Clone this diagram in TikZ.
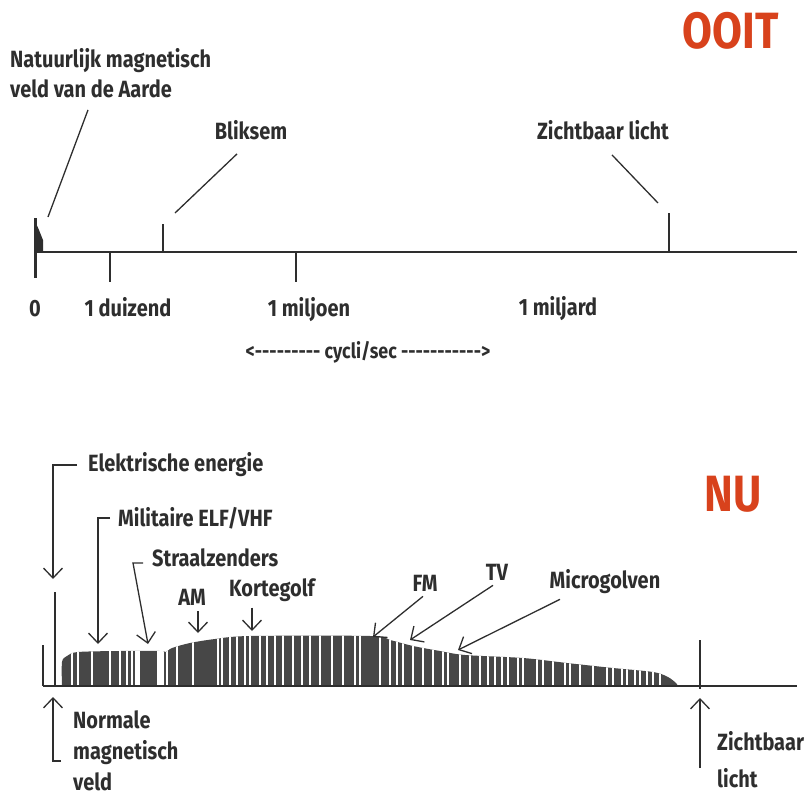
\documentclass[tikz,border=0pt]{standalone}
\usepackage{fontspec}
\setmainfont{Fira Sans}[FakeStretch=0.85]
\usetikzlibrary{arrows.meta}

\definecolor{inkt}{HTML}{2E2E2E}
\definecolor{titelrood}{HTML}{D8421C}

\tikzset{
    lbl/.style={font=\fontsize{23.5}{30}\selectfont\bfseries, text=inkt, inner sep=0pt},
    titel/.style={font=\fontsize{51}{51}\selectfont\bfseries, text=titelrood, inner sep=0pt},
    as/.style={draw=inkt, line width=2.4pt},
    wijzer/.style={draw=inkt, line width=1.3pt},
    pijl/.style={draw=inkt, line width=1.3pt, -{Straight Barb[length=10pt,width=19pt]}}
}

\begin{document}
\begin{tikzpicture}[x=1pt,y=-1pt]
    \useasboundingbox (0,0) rectangle (807,798);

    % ---------- OOIT ----------
    \node[titel] (ooit) at (731,31) {OOIT};

    % the labels above the axis
    \node[lbl, anchor=west, align=left] (aarde) at (10,73) {Natuurlijk magnetisch\\veld van de Aarde};
    \node[lbl] (bliksem) at (251,130) {Bliksem};
    \node[lbl] (licht) at (603,130) {Zichtbaar licht};

    % the axis and its ticks
    \coordinate (a0) at (35,252);
    \coordinate (aeind) at (797,252);
    \draw[as] (a0) -- (aeind);
    \draw[as, line width=3pt] (35,218) -- (35,278);
    \fill[inkt] (35,221) -- (39,230) -- (43,240) -- (43,252) -- (35,252) -- cycle;
    \draw[as] (110,252) -- (110,282);
    \draw[as] (296,252) -- (296,282);
    \draw[as, line width=1.8pt] (163,252) -- (163,224);
    \draw[as, line width=1.8pt] (669,252) -- (669,213);

    % the pointers from the labels
    \coordinate (aardepunt) at (48,217);
    \coordinate (bliksempunt) at (175,213);
    \coordinate (lichtpunt) at (658,203);
    \draw[wijzer] ([shift={(78,12)}]aarde.south west) -- (aardepunt);
    \draw[wijzer] ([shift={(-14,14)}]bliksem.south) -- (bliksempunt);
    \draw[wijzer] ([shift={(9,15)}]licht.south) -- (lichtpunt);

    % the numbers under the axis
    \node[lbl, anchor=base] (nul) at (35,316) {0};
    \node[lbl, anchor=base] (duizend) at (128,316) {1 duizend};
    \node[lbl, anchor=base] (miljoen) at (309,316) {1 miljoen};
    \node[lbl, anchor=base] (miljard) at (558,315) {1 miljard};
    \node[lbl, font=\fontsize{21}{22}\selectfont\bfseries] (cycli) at (368,352)
        {<-{}-{}-{}-{}-{}-{}-{}-{}- cycli/sec -{}-{}-{}-{}-{}-{}-{}-{}-{}-{}->};

    % ---------- NU ----------
    \node[titel] (nu) at (733,494) {NU};

    % the spectrum (bars clipped to its outline)
    \begin{scope}
        \clip plot[smooth] coordinates {(62,686) (62,662) (67,656) (78,652) (120,651) (160,651)
            (166,652) (172,648) (190,643) (215,639) (250,636) (370,636) (390,640) (413,646)
            (440,651) (465,655) (523,658) (567,663) (613,668) (653,672) (668,677) (677,684)
            (677,686)} -- cycle;
        \fill[black!72] (60,620) rectangle (680,690);
        \foreach \x/\w in {72/2, 78/1.5, 92/2, 110/1.5, 120/2, 127/1.5, 132/1.5, 137/5, 160/7,
            167/2, 177/1.5, 193/2, 218/1.5, 222/1.5, 230/2, 237/1.5, 245/2, 250/1.5, 260/2,
            267/1.5, 275/2, 283/1.5, 293/2, 302/2, 310/1.5, 320/2, 332/2, 343/1.5, 355/2,
            360/1.5, 380/2, 390/2.5, 397/1.5, 403/2, 413/1.5, 423/2, 433/1.5, 443/2, 448/1.5,
            460/2, 470/2, 480/1.5, 488/2, 495/1.5, 502/2, 508/1.5, 518/2, 523/1.5, 537/1.5,
            543/2, 553/2, 565/2, 570/1.5, 580/2, 593/2.5, 607/2, 613/2, 622/2, 627/1.5,
            635/2, 640/1.5, 647/1.5, 653/1.5, 660/1.5}
            \draw[white, line width=\w pt] (\x,620) -- (\x,690);
    \end{scope}

    % the axis and the two marks at the start
    \coordinate (b0) at (43,686);
    \coordinate (beind) at (797,686);
    \draw[as] (b0) -- (beind);
    \draw[as, line width=1.6pt] (43,645) -- (43,686);
    \draw[as, line width=1.6pt] (55,592) -- (55,686);
    \draw[as, line width=1.6pt] (700,640) -- (700,689);

    % the labels and their arrows
    \node[lbl, anchor=west] (elek) at (88,465) {Elektrische energie};
    \node[lbl, anchor=west] (mil) at (118,518) {Militaire ELF/VHF};
    \node[lbl, anchor=west] (straal) at (152,558) {Straalzenders};
    \node[lbl] (am) at (192,597) {AM};
    \node[lbl] (korte) at (272,590) {Kortegolf};
    \node[lbl] (fm) at (425,583) {FM};
    \node[lbl] (tv) at (497,572) {TV};
    \node[lbl] (micro) at (605,582) {Microgolven};

    \coordinate (elekpunt) at (53,579);
    \coordinate (milpunt) at (98,644);
    \coordinate (straalpunt) at (148,644);
    \coordinate (ampunt) at (198,633);
    \coordinate (kortepunt) at (252,631);
    \coordinate (fmpunt) at (373,637);
    \coordinate (tvpunt) at (410,640);
    \coordinate (micropunt) at (458,650);

    \draw[pijl] ([xshift=-11pt]elek.west) -| (elekpunt);
    \draw[pijl] ([xshift=-8pt]mil.west) -| (milpunt);
    \draw[pijl] ([shift={(-9,5)}]straal.west) -- ++(-10,0) -- (straalpunt);
    \draw[pijl] ([shift={(6,6)}]am.south) -- (ampunt);
    \draw[pijl] ([shift={(-20,6)}]korte.south) -- (kortepunt);
    \draw[pijl] ([shift={(-2,5)}]fm.south) -- (fmpunt);
    \draw[pijl] ([shift={(-4,5)}]tv.south) -- (tvpunt);
    \draw[pijl] ([shift={(-45,5)}]micro.south) -- (micropunt);

    % the labels under the axis
    \node[lbl, anchor=west, align=left, font=\fontsize{23.5}{31}\selectfont\bfseries] (normaal) at (73,751)
        {Normale\\magnetisch\\veld};
    \node[lbl, anchor=west, align=left, font=\fontsize{23.5}{37}\selectfont\bfseries] (zicht) at (717,760)
        {Zichtbaar\\licht};

    \coordinate (normpunt) at (53,697);
    \coordinate (zichtpunt) at (700,698);
    \draw[pijl] ([shift={(-12,10)}]normaal.west) -| (normpunt);
    \draw[pijl] ([shift={(-17,8)}]zicht.west) -- (zichtpunt);

\end{tikzpicture}
\end{document}
